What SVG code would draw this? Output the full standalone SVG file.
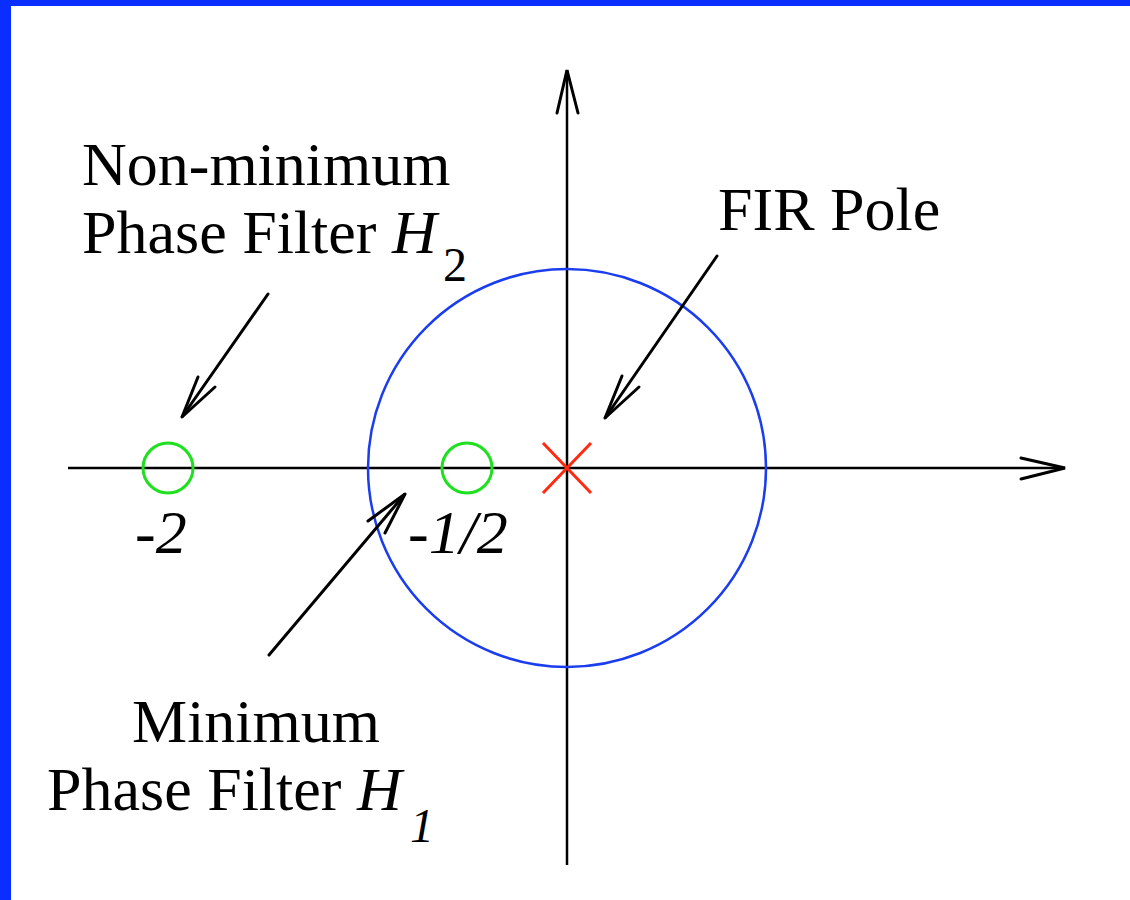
<svg xmlns="http://www.w3.org/2000/svg" width="1130" height="900" viewBox="0 0 1130 900">
<style>
.ax{stroke:#000;stroke-width:2.5;fill:none}
.ar{stroke:#000;stroke-width:3;fill:none;stroke-linecap:round;stroke-linejoin:miter}
.t{font-family:"Liberation Serif","Times New Roman",serif;font-size:62px;fill:#000}
.i{font-style:italic}
.sub{font-size:48px}
.zero{stroke:#1ee01e;stroke-width:3;fill:none}
</style>
<rect x="0" y="0" width="1130" height="900" fill="#fff"/>
<rect x="0" y="0" width="1130" height="6" fill="#0a2eff"/>
<rect x="0" y="0" width="11" height="900" fill="#0a2eff"/>
<g id="axes">
<line class="ax" x1="68" y1="468" x2="1065" y2="468"/>
<polyline class="ar" points="1021,458 1065,468 1021,479"/>
<line class="ax" x1="567" y1="865" x2="567" y2="70"/>
<polyline class="ar" points="557,113 567,70 578,113"/>
</g>
<g id="unit-circle"><circle cx="567" cy="468" r="199" fill="none" stroke="#1a3df0" stroke-width="2.5"/></g>
<g id="zero-2"><circle class="zero" cx="168" cy="468" r="25"/></g>
<g id="zero-half"><circle class="zero" cx="467" cy="468" r="25"/></g>
<g id="pole"><path d="M543,443 L591,493 M591,443 L543,493" stroke="#ff2a10" stroke-width="3" fill="none"/></g>
<g id="connectors">
<line class="ar" x1="268" y1="294" x2="182" y2="417"/>
<polyline class="ar" points="198,377 182,417 215,387"/>
<line class="ar" x1="717" y1="256" x2="605" y2="418"/>
<polyline class="ar" points="622,376 605,418 639,387"/>
<line class="ar" x1="269" y1="655" x2="405" y2="494"/>
<polyline class="ar" points="368,521 405,494 385,533"/>
</g>
<g id="label-h2">
<text class="t" x="82" y="185">Non-minimum</text>
<text class="t" x="82" y="253">Phase Filter <tspan class="i">H</tspan></text>
<text class="t sub" x="443" y="281">2</text>
</g>
<g id="label-fir"><text class="t" x="718" y="230">FIR Pole</text></g>
<g id="label-h1">
<text class="t" x="132" y="742">Minimum</text>
<text class="t" x="47" y="810">Phase Filter <tspan class="i">H</tspan></text>
<text class="t i sub" x="410" y="842">1</text>
</g>
<g id="label-m2"><text class="t i" x="135" y="553">-2</text></g>
<g id="label-mhalf"><text class="t i" x="408" y="553">-1/2</text></g>
</svg>
